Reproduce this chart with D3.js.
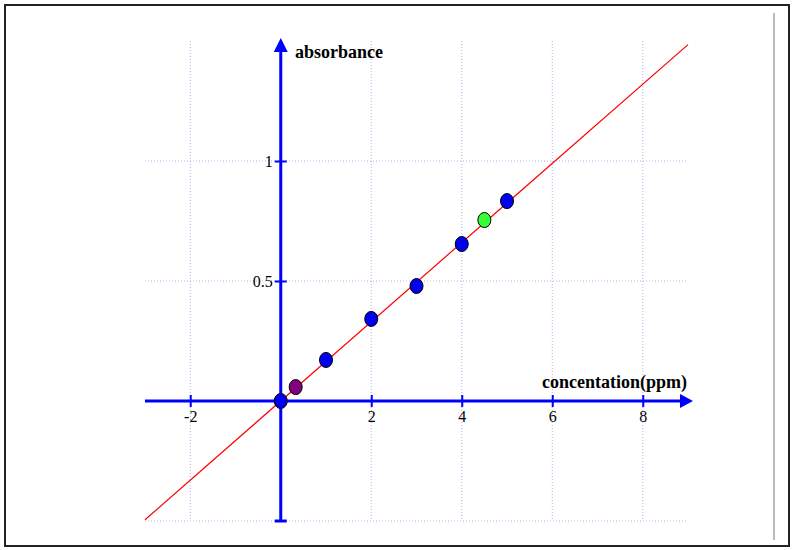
<!DOCTYPE html>
<html>
<head>
<meta charset="utf-8">
<script src="https://cdn.jsdelivr.net/npm/d3@7"></script>
<style>
  body { margin: 0; background: #fff; }
  text { font-family: "Liberation Serif", "Times New Roman", serif; }
</style>
</head>
<body>
<script>
/* data */
const concentration = [0, 1, 2, 3, 4, 5];
const absorbance = [0, 0.171, 0.342, 0.479, 0.654, 0.833];
const extraX = [0.33, 4.5];          // purple and green points
const extraY = [0.058, 0.754];
const extraColors = ['#800080', '#33ff33'];
const xTicks = [-2, 2, 4, 6, 8];
const yTicks = [0.5, 1];
const fitSlope = 0.165, fitIntercept = 0;

const W = 796, H = 550;
const svg = d3.select('body').append('svg')
  .attr('width', W).attr('height', H);

// outer frame
svg.append('rect')
  .attr('x', 5).attr('y', 5).attr('width', 784).attr('height', 541)
  .attr('fill', '#fff').attr('stroke', '#222').attr('stroke-width', 2);
svg.append('line')
  .attr('x1', 774).attr('x2', 774).attr('y1', 13).attr('y2', 540)
  .attr('stroke', '#777').attr('stroke-width', 1);

/* scales */
const x = d3.scaleLinear().domain([-3, 9]).range([145, 688]);
const y = d3.scaleLinear().domain([-0.5, 1.5]).range([521, 41]);

// grid
const grid = svg.append('g')
  .attr('stroke', '#b0b0f4').attr('stroke-width', 1).attr('stroke-dasharray', '1,2');
grid.selectAll('.vg').data(xTicks).enter().append('line')
  .attr('x1', d => x(d)).attr('x2', d => x(d))
  .attr('y1', y(1.5)).attr('y2', y(-0.5));
grid.selectAll('.hg').data([-0.5, 0.5, 1]).enter().append('line')
  .attr('x1', x(-3)).attr('x2', x(9))
  .attr('y1', d => y(d)).attr('y2', d => y(d));

// fitted line
svg.append('line')
  .attr('x1', x(-3)).attr('y1', y(fitIntercept + fitSlope * -3))
  .attr('x2', x(9)).attr('y2', y(fitIntercept + fitSlope * 9))
  .attr('stroke', '#ff0000').attr('stroke-width', 1.2);

/* axes */
const xAxis = d3.axisBottom(x).tickValues(xTicks).tickSize(6).tickFormat(d => String(d));
const gx = svg.append('g').attr('transform', 'translate(0,' + y(0) + ')').call(xAxis);
gx.select('.domain').remove();
gx.selectAll('.tick line').attr('y1', -6).attr('stroke', '#0000ff').attr('stroke-width', 2);
gx.selectAll('.tick text').attr('y', 10).attr('font-size', 16).attr('fill', '#000')
  .style('font-family', '"Liberation Serif", serif');

const yAxis = d3.axisLeft(y).tickValues(yTicks).tickSize(6).tickFormat(d => String(d));
const gy = svg.append('g').attr('transform', 'translate(' + x(0) + ',0)').call(yAxis);
gy.select('.domain').remove();
gy.selectAll('.tick line').attr('x2', 6).attr('x1', -6).attr('stroke', '#0000ff').attr('stroke-width', 2);
gy.selectAll('.tick text').attr('x', -8).attr('font-size', 16).attr('fill', '#000')
  .style('font-family', '"Liberation Serif", serif');

// axis lines with arrows
svg.append('line')
  .attr('x1', x(-3)).attr('x2', x(9) - 4).attr('y1', y(0)).attr('y2', y(0))
  .attr('stroke', '#0000ff').attr('stroke-width', 3);
svg.append('path')
  .attr('d', `M${x(9) + 5},${y(0)} L${x(9) - 8},${y(0) - 7} L${x(9) - 8},${y(0) + 7} Z`)
  .attr('fill', '#0000ff');
svg.append('line')
  .attr('x1', x(0)).attr('x2', x(0)).attr('y1', y(-0.5)).attr('y2', y(1.5) + 8)
  .attr('stroke', '#0000ff').attr('stroke-width', 3);
svg.append('line')
  .attr('x1', x(0) - 6).attr('x2', x(0) + 6).attr('y1', y(-0.5)).attr('y2', y(-0.5))
  .attr('stroke', '#0000ff').attr('stroke-width', 3);
svg.append('path')
  .attr('d', `M${x(0)},${y(1.5) - 3} L${x(0) - 7},${y(1.5) + 11} L${x(0) + 7},${y(1.5) + 11} Z`)
  .attr('fill', '#0000ff');

// axis titles
svg.append('text')
  .attr('x', 295).attr('y', 58)
  .attr('font-size', 18).attr('font-weight', 'bold')
  .text('absorbance');
svg.append('text')
  .attr('x', 687).attr('y', 388).attr('text-anchor', 'end')
  .attr('font-size', 18).attr('font-weight', 'bold')
  .text('concentation(ppm)');

/* points */
svg.selectAll('.dot').data(concentration).enter().append('ellipse')
  .attr('class', 'dot')
  .attr('cx', d => x(d))
  .attr('cy', (d, i) => y(absorbance[i]))
  .attr('rx', 6.5).attr('ry', 7.5)
  .attr('fill', '#0000ee').attr('stroke', '#000').attr('stroke-width', 1);

svg.selectAll('.extra').data(extraX).enter().append('ellipse')
  .attr('class', 'extra')
  .attr('cx', d => x(d))
  .attr('cy', (d, i) => y(extraY[i]))
  .attr('rx', 6.5).attr('ry', 7.5)
  .attr('fill', (d, i) => extraColors[i]).attr('stroke', '#000').attr('stroke-width', 1);
</script>
</body>
</html>
